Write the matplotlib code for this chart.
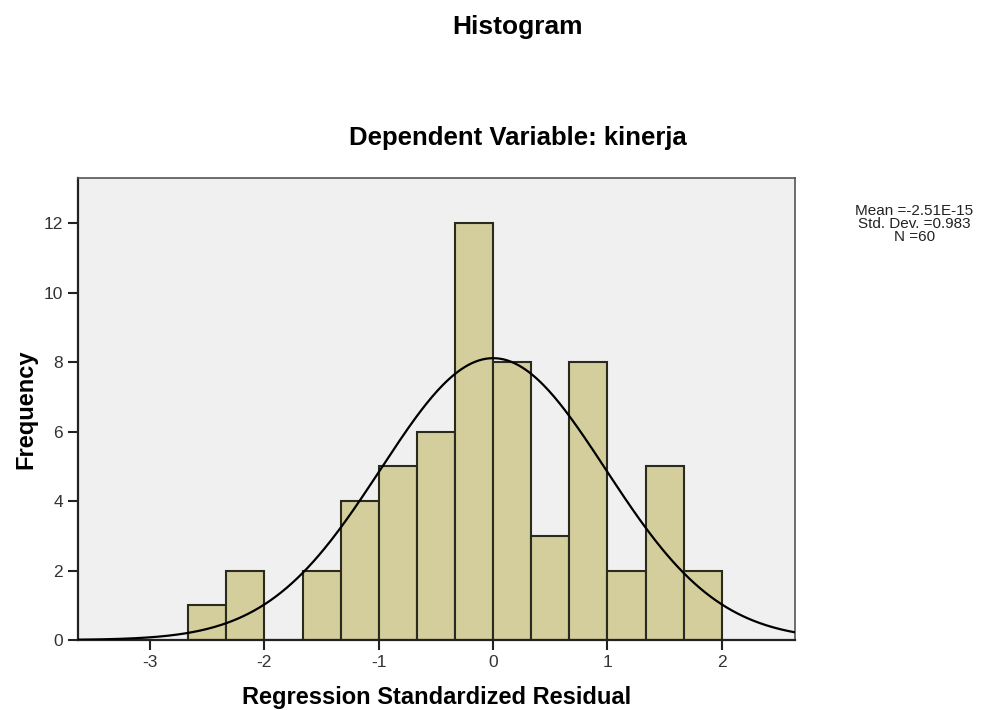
import matplotlib
matplotlib.use("Agg")
import matplotlib.pyplot as plt
import numpy as np

# Histogram bins of the regression standardized residual (width 1/3)
bin_edges = [-8 / 3, -7 / 3, -2, -5 / 3, -4 / 3, -1, -2 / 3, -1 / 3,
             0, 1 / 3, 2 / 3, 1, 4 / 3, 5 / 3, 2]
counts = [1, 2, 0, 2, 4, 5, 6, 12, 8, 3, 8, 2, 5, 2]

# Summary statistics shown next to the chart
mean = -2.51e-15
std_dev = 0.983
n_obs = 60

x_ticks = [-3, -2, -1, 0, 1, 2]
y_ticks = [0, 2, 4, 6, 8, 10, 12]

plt.rcParams["font.family"] = ["Liberation Sans", "DejaVu Sans"]
plt.rcParams["axes.unicode_minus"] = False

fig = plt.figure(figsize=(9.98, 7.1), dpi=100)
ax = fig.add_axes([0.0782, 0.0986, 0.7184, 0.6504])
ax.set_facecolor("#f0f0f0")

edges = np.array(bin_edges)
widths = np.diff(edges)
ax.bar(edges[:-1], counts, width=widths, align="edge",
       color="#d3ce9c", edgecolor="#2a2a1e", linewidth=1.5, zorder=2)

# Normal curve scaled to the histogram (N * bin width * density)
xs = np.linspace(-3.63, 2.64, 400)
bin_width = widths[0]
density = np.exp(-0.5 * ((xs - mean) / std_dev) ** 2) / (std_dev * np.sqrt(2 * np.pi))
ax.plot(xs, n_obs * bin_width * density, color="black", linewidth=1.6, zorder=3)

ax.set_xlim(-3.63, 2.64)
ax.set_ylim(0, 13.3)
ax.set_xticks(x_ticks)
ax.set_yticks(y_ticks)
ax.tick_params(direction="out", length=7.5, width=1.5, labelsize=12.5,
               colors="#222222", labelcolor="#333333")
for side in ["top", "right"]:
    ax.spines[side].set_color("#555555")
    ax.spines[side].set_linewidth(1.2)
for side in ["left", "bottom"]:
    ax.spines[side].set_color("#222222")
    ax.spines[side].set_linewidth(1.6)

ax.set_xlabel("Regression Standardized Residual", fontsize=17,
              fontweight="bold", labelpad=11)
ax.set_ylabel("Frequency", fontsize=17, fontweight="bold", labelpad=4)

fig.text(0.519, 0.962, "Histogram", ha="center", va="center",
         fontsize=19, fontweight="bold")
fig.text(0.519, 0.806, "Dependent Variable: kinerja", ha="center",
         va="center", fontsize=18.5, fontweight="bold")

stats_text = (f"Mean ={mean:.2E}" + "\n"
              + f"Std. Dev. ={std_dev}\n" + f"N ={n_obs}")
fig.text(0.916, 0.712, stats_text, ha="center", va="top", fontsize=11,
         linespacing=0.9, color="#222222")

fig.savefig("out.png", dpi=100, facecolor="white")
